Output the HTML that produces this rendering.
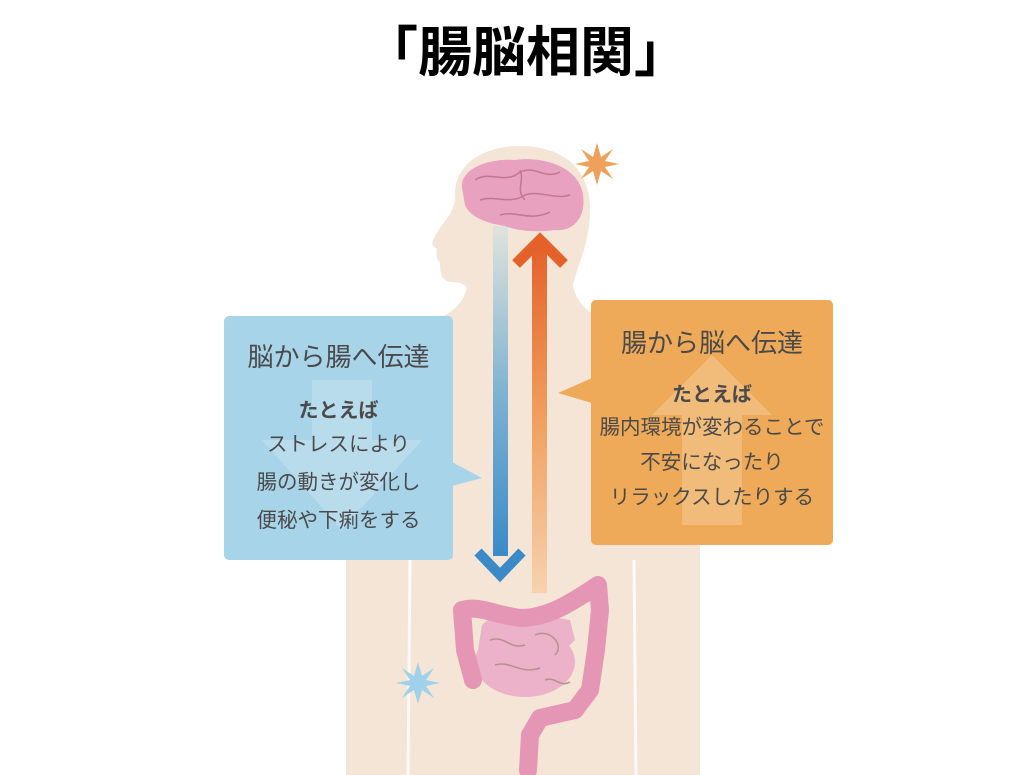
<!DOCTYPE html>
<html><head><meta charset="utf-8">
<style>
html,body{margin:0;padding:0;background:#fff;}
body{width:1024px;height:775px;position:relative;overflow:hidden;font-family:"Liberation Sans","Noto Sans CJK JP",sans-serif;}
.title{position:absolute;left:0;width:1052px;top:16px;text-align:center;font-size:54px;font-weight:bold;color:#000;line-height:74px;}
.box{position:absolute;color:#4a4a4a;text-align:center;}
.h{font-size:26px;line-height:34px;}
.b{font-size:20.5px;}
.bb{font-weight:bold;font-size:20px;}
</style></head><body>
<div class="title">「腸脳相関」</div>
<svg width="1024" height="775" style="position:absolute;left:0;top:0">
<defs>
<linearGradient id="dn" x1="0" y1="0" x2="0" y2="1"><stop offset="0" stop-color="#dfe3dc"/><stop offset="0.5" stop-color="#7fb3d2"/><stop offset="1" stop-color="#3b8ac8"/></linearGradient>
<linearGradient id="up" x1="0" y1="0" x2="0" y2="1"><stop offset="0" stop-color="#e4622a"/><stop offset="0.5" stop-color="#f0a060"/><stop offset="1" stop-color="#f6d2ae"/></linearGradient>
</defs>
<g fill="#f5e5d6">
<path d="M455 200 C452 160 490 145 522 146 C565 147 592 170 590 215 C588 250 575 270 572 290 L470 295 C468 285 462 282 450 282 C440 280 440 270 440 262 C434 258 438 252 436 248 C430 245 432 240 440 228 C445 220 452 215 455 200Z"/>
<path d="M468 280 L572 280 C575 305 590 320 640 330 C690 340 700 380 700 420 L700 775 L346 775 L346 420 C346 375 360 340 400 330 C450 320 466 305 468 280Z"/>
</g>
<g stroke="#fff" stroke-width="3" fill="none" opacity="0.8">
<path d="M410 560 L408 775"/><path d="M634 560 L636 775"/>
</g>
<rect x="224" y="316" width="229" height="244" rx="5" fill="#a8d4e9"/>
<polygon points="452,462 482,478 452,486" fill="#a8d4e9"/>
<g fill="#fff" opacity="0.2"><rect x="312" y="380" width="60" height="80"/><polygon points="262,440 342,530 422,440 372,440 312,440"/></g>
<rect x="591" y="300" width="242" height="245" rx="5" fill="#eeaa58"/>
<polygon points="592,378 558,393 592,403" fill="#eeaa58"/>
<g fill="#fff" opacity="0.2"><polygon points="652,415 712,355 772,415"/><rect x="682" y="415" width="60" height="110"/></g>
<rect x="493" y="226" width="15" height="330" fill="url(#dn)"/>
<path d="M478 552 L500 575 L522 552" stroke="#3b8ac8" stroke-width="10" fill="none"/>
<rect x="532" y="248" width="15" height="345" fill="url(#up)"/>
<path d="M516 264 L540 240 L564 264" stroke="#e4622a" stroke-width="11" fill="none"/>
<path d="M462 188 C460 168 490 158 515 160 C540 156 575 165 582 190 C588 215 575 232 555 230 C540 232 520 232 505 226 C490 224 470 218 465 205Z" fill="#e8a2bf"/>
<g stroke="#c27797" stroke-width="1.5" fill="none"><path d="M475 180 C490 170 505 185 520 172 C535 165 545 180 560 172"/><path d="M480 200 C495 195 510 205 525 195 C540 190 555 200 570 195"/><path d="M500 215 C515 210 530 222 550 212"/><path d="M520 170 C525 180 515 190 525 200"/></g>
<path d="M482 625 L478 650 L488 660 L555 660 L575 640 L570 620 L540 615 L520 620 L490 618Z" fill="#ebb2c9"/>
<ellipse cx="525" cy="662" rx="50" ry="35" fill="#ebb2c9"/>
<g stroke="#b89090" stroke-width="1.5" fill="none"><path d="M490 640 C505 635 510 650 525 645"/><path d="M535 635 C550 628 565 645 555 655"/><path d="M495 665 C510 660 520 675 540 668"/><path d="M545 680 C555 676 560 688 570 682"/></g>
<path d="M473 680 L465 650 L462 610 C480 605 495 615 520 618 C550 618 575 600 598 585 L600 610 L596 650 L590 690 L575 710 L540 718 L530 735 L528 770" stroke="#e596b4" stroke-width="18" fill="none" stroke-linejoin="round" stroke-linecap="round"/>
<polygon fill="#eea15a" points="597,143 601,157 613,149 605,161 619,164 605,167 613,179 601,171 597,185 593,171 581,179 589,167 575,164 589,161 581,149 593,157"/>
<polygon fill="#9fd2ea" points="418,662 422,676 434,668 426,680 440,683 426,686 434,698 422,690 418,704 414,690 402,698 410,686 396,683 410,680 402,668 414,676"/>
</svg>
<div class="box" style="left:224px;top:340px;width:229px;">
<div class="h">脳から腸へ伝達</div>
<div class="bb" style="margin-top:22px;line-height:30px">たとえば</div>
<div class="b" style="line-height:38px;margin-top:0px">ストレスにより<br>腸の動きが変化し<br>便秘や下痢をする</div>
</div>
<div class="box" style="left:591px;top:326px;width:242px;">
<div class="h">腸から脳へ伝達</div>
<div class="bb" style="margin-top:20px;line-height:30px">たとえば</div>
<div class="b" style="line-height:35px;margin-top:0px">腸内環境が変わることで<br>不安になったり<br>リラックスしたりする</div>
</div>
</body></html>
